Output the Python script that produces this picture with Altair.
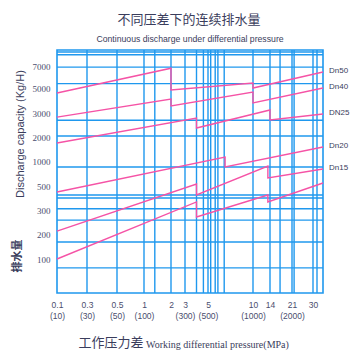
import altair as alt
import pandas as pd

# ---------------- data ----------------
pressure_ticks = [0.1, 0.3, 0.5, 1, 2, 3, 5, 10, 14, 21, 30]
pressure_top = ["0.1", "0.3", "0.5", "1", "2", "3", "5", "10", "14", "21", "30"]
pressure_paren = ["(10)", "(30)", "(50)", "(100)", "", "(300)", "(500)", "(1000)", "", "(2000)", ""]
capacity_ticks = [100, 200, 300, 500, 1000, 2000, 3000, 5000, 7000]

grid_pressure = [0.3, 0.5, 1, 1.4, 2, 3, 4, 4.6, 5, 5.3, 5.8, 6.1, 6.8, 10, 14, 17.2, 21, 21.9, 30, 30.8]
grid_capacity = [8750, 8400, 6900, 5400, 2700, 2040, 880, 425, 400, 310, 258, 168, 74]

series_names = ["Dn50", "Dn40", "DN25", "Dn20", "Dn15", "-"]
dn50_p = [0.1, 2, 2, 10, 10, 32]
dn50_q = [4600, 6800, 4850, 5450, 5000, 6450]
dn40_p = [0.1, 2, 2, 10, 10, 32]
dn40_q = [2830, 4120, 3560, 4680, 3800, 5000]
dn25_p = [0.1, 4, 4, 14, 14, 32]
dn25_q = [1750, 2790, 2375, 3240, 2710, 2960]
dn20_p = [0.1, 6.9, 6.9, 32]
dn20_q = [450, 1167, 880, 1583]
dn15_p = [0.1, 4, 4, 13.5, 13.5, 32]
dn15_q = [212, 540, 425, 900, 660, 840]
low_p = [0.1, 4, 4, 13.5, 13.5, 32]
low_q = [100, 367, 271, 425, 367, 560]

# ---------------- scales (piecewise, like the printed chart) ----------------
x_domain = [0.1, 0.3, 0.5, 1, 2, 3, 5, 10, 14, 21, 30, 32]
x_range = [0, 30, 60, 87, 114, 128, 151, 196, 213, 235, 256, 266]
y_domain = [0, 100, 200, 300, 500, 1000, 2000, 3000, 5000, 7000, 9000]
y_range = [243, 209, 184, 160, 136, 111, 87, 63, 38, 16, 0]

W, H = 266, 243
BLUE = "#1f98ee"
PINK = "#f553a6"
TXT = "#3a3d5c"
TICK = "#4a4e6e"

xs = alt.Scale(type="linear", domain=x_domain, range=x_range, nice=False, zero=False)
ys = alt.Scale(type="linear", domain=y_domain, range=y_range, nice=False, zero=False)

rows = []
for name, ps, qs in zip(series_names,
                        [dn50_p, dn40_p, dn25_p, dn20_p, dn15_p, low_p],
                        [dn50_q, dn40_q, dn25_q, dn20_q, dn15_q, low_q]):
    for i, (p, q) in enumerate(zip(ps, qs)):
        rows.append({"series": name, "order": i, "p": p, "q": q})
lines_df = pd.DataFrame(rows)
ends_df = lines_df.loc[lines_df.groupby("series")["order"].idxmax()]
ends_df = ends_df[ends_df["series"] != "-"]

# x axis labels: two rows
parts = []
for v, t, b in zip(pressure_ticks, pressure_top, pressure_paren):
    if b:
        parts.append(f"datum.value == {v} ? ['{t}', '{b}']")
    else:
        parts.append(f"datum.value == {v} ? '{t}'")
label_expr = " : ".join(parts) + " : ''"

xaxis = alt.Axis(
    values=pressure_ticks, labelExpr=label_expr, grid=False, ticks=False,
    domain=False, labelPadding=7, labelFont="Liberation Sans",
    labelFontSize=8.5, labelColor=TICK, labelLineHeight=11,
    labelBaseline="top", labelOverlap=False, labelFlush=False, title=None)
yaxis = alt.Axis(
    values=capacity_ticks, format="d", grid=False, ticks=False, domain=False,
    labelPadding=7, labelFont="Liberation Serif", labelFontSize=9,
    labelColor=TICK, labelOverlap=False, labelFlush=False, title=None)

vgrid = alt.Chart(pd.DataFrame({"p": grid_pressure})).mark_rule(
    color=BLUE, strokeWidth=1.4
).encode(x=alt.X("p:Q", scale=xs, axis=xaxis))

hgrid = alt.Chart(pd.DataFrame({"q": grid_capacity})).mark_rule(
    color=BLUE, strokeWidth=1.4
).encode(y=alt.Y("q:Q", scale=ys, axis=yaxis))

lines = alt.Chart(lines_df).mark_line(color=PINK, strokeWidth=1.4).encode(
    x=alt.X("p:Q", scale=xs, axis=xaxis),
    y=alt.Y("q:Q", scale=ys, axis=yaxis),
    detail="series:N",
    order="order:Q",
)

labels = alt.Chart(ends_df).mark_text(
    align="left", baseline="middle", dx=6, dy=-1,
    font="Liberation Sans", fontSize=8, color=TXT
).encode(x=alt.X("p:Q", scale=xs, axis=xaxis),
         y=alt.Y("q:Q", scale=ys, axis=yaxis), text="series:N")


def txt(s, x, y, **kw):
    return alt.Chart(pd.DataFrame({"t": [s]})).mark_text(**kw).encode(
        x=alt.value(x), y=alt.value(y), text="t:N")


title_cn = txt("不同压差下的连续排水量", 132, -30, font="Noto Sans CJK SC",
               fontSize=13, color=TXT, align="center", baseline="middle")
title_en = txt("Continuous discharge under differential pressure", 133, -11,
               font="Liberation Sans", fontSize=8.7,
               color=TXT, align="center", baseline="middle")
ytitle_en = txt("Discharge capacity (Kg/H)", -36, 84, font="Liberation Sans",
                fontSize=11, color=TXT, align="center", baseline="middle", angle=270)
ytitle_cn = txt("排水量", -39, 206, font="Noto Sans CJK SC", fontSize=11,
                fontWeight="bold", color=TXT, align="center", baseline="middle", angle=270)
xtitle_cn = txt("工作压力差", 54, 293, font="Noto Sans CJK SC", fontSize=13,
                color=TXT, align="center", baseline="middle")
xtitle_en = txt("Working differential pressure(MPa)", 89, 295, font="Liberation Serif",
                fontSize=10, color=TXT, align="left", baseline="middle")

chart = alt.layer(
    vgrid, hgrid, lines, labels,
    title_cn, title_en, ytitle_en, ytitle_cn, xtitle_cn, xtitle_en
).properties(
    width=W, height=H,
    autosize=alt.AutoSizeParams(type="none"),
    padding={"left": 49, "top": 42, "right": 28, "bottom": 58},
    background="white",
).configure_view(stroke=BLUE, strokeWidth=1.6)

chart.save("out.html", embed_options={"renderer": "svg", "actions": False})
